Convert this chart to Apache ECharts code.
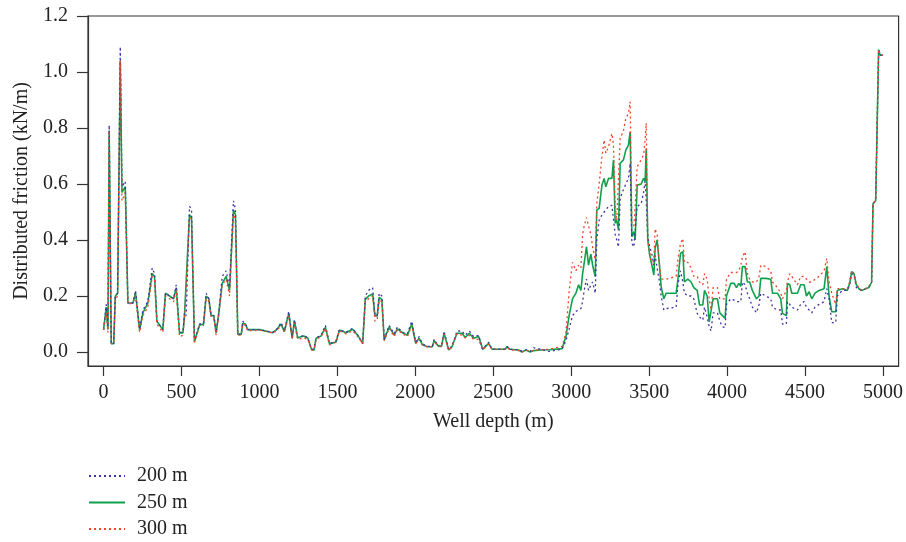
<!DOCTYPE html>
<html>
<head>
<meta charset="utf-8">
<script src="https://cdn.jsdelivr.net/npm/echarts@6/dist/echarts.min.js"></script>
<style>
  html, body { margin: 0; padding: 0; background: #fff; }
  #chart { width: 906px; height: 542px; }
</style>
</head>
<body>
<div id="chart"></div>
<script>
// well depth (m), shared by the three curves
var depth = [
  0,17,28,36,49,65,75,90,107,118,
  139,156,188,205,231,252,284,312,327,342,
  380,397,423,449,466,487,509,519,530,551,
  564,583,615,641,658,675,690,707,722,739,
  761,786,808,833,846,861,883,893,910,925,
  1000,1085,1110,1139,1160,1188,1210,1224,1245,1284,
  1310,1335,1350,1363,1395,1423,1449,1491,1513,1555,
  1598,1630,1662,1679,1700,1726,1741,1755,1768,1785,
  1800,1832,1864,1885,1917,1949,1977,2002,2024,2045,
  2077,2109,2120,2148,2168,2184,2196,2214,2235,2267,
  2299,2320,2346,2374,2406,2432,2470,2491,2577,2588,
  2605,2662,2684,2710,2737,2760,2802,2860,2941,2966,
  2987,3008,3030,3047,3062,3073,3083,3098,3111,3126,
  3137,3154,3164,3179,3197,3211,3222,3239,3261,3271,
  3282,3292,3303,3314,3335,3350,3367,3378,3389,3402,
  3410,3423,3449,3464,3474,3481,3491,3502,3517,3530,
  3538,3551,3566,3577,3594,3609,3673,3684,3701,3716,
  3726,3748,3769,3786,3808,3823,3844,3855,3872,3885,
  3897,3910,3938,3953,3970,3987,3996,4023,4045,4060,
  4075,4088,4098,4115,4130,4145,4162,4188,4205,4216,
  4248,4280,4291,4323,4344,4355,4380,4387,4402,4415,
  4451,4472,4494,4509,4526,4543,4564,4590,4622,4639,
  4654,4671,4697,4707,4739,4771,4786,4799,4814,4829,
  4846,4863,4885,4910,4927,4936,4953,4972,4982,5000
];

// distributed friction (kN/m), 200 m
var f200 = [
  0.08,0.17,0.09,0.81,0.03,0.03,0.20,0.21,1.09,0.59,
  0.61,0.175,0.175,0.22,0.08,0.15,0.18,0.30,0.28,0.11,
  0.08,0.21,0.20,0.19,0.24,0.07,0.07,0.14,0.13,0.52,
  0.51,0.035,0.10,0.10,0.21,0.19,0.13,0.13,0.07,0.14,
  0.27,0.29,0.23,0.54,0.51,0.063,0.065,0.11,0.10,0.08,
  0.08,0.07,0.08,0.105,0.075,0.145,0.05,0.115,0.05,0.06,
  0.05,0.01,0.01,0.05,0.06,0.095,0.03,0.04,0.08,0.07,
  0.085,0.06,0.03,0.20,0.22,0.23,0.13,0.13,0.21,0.20,
  0.045,0.095,0.065,0.09,0.07,0.065,0.11,0.035,0.055,0.03,
  0.02,0.02,0.045,0.022,0.02,0.075,0.07,0.008,0.02,0.075,
  0.075,0.06,0.075,0.055,0.06,0.01,0.035,0.01,0.01,0.02,
  0.01,0.008,0.003,0.008,0.003,0.015,0.01,0.002,0.01,0.04,
  0.083,0.13,0.145,0.15,0.155,0.18,0.22,0.26,0.22,0.24,
  0.25,0.21,0.40,0.47,0.49,0.50,0.50,0.52,0.524,0.524,
  0.42,0.40,0.375,0.55,0.58,0.60,0.62,0.674,0.388,0.375,
  0.38,0.52,0.53,0.57,0.61,0.54,0.41,0.38,0.35,0.31,
  0.345,0.30,0.25,0.20,0.15,0.155,0.16,0.24,0.29,0.25,
  0.21,0.20,0.20,0.19,0.138,0.125,0.114,0.16,0.125,0.09,
  0.075,0.14,0.14,0.11,0.09,0.087,0.17,0.19,0.185,0.18,
  0.18,0.18,0.25,0.24,0.21,0.19,0.16,0.14,0.17,0.21,
  0.20,0.19,0.16,0.15,0.15,0.10,0.10,0.18,0.17,0.16,
  0.15,0.17,0.18,0.16,0.15,0.14,0.16,0.17,0.18,0.226,
  0.19,0.105,0.105,0.20,0.22,0.22,0.24,0.28,0.275,0.23,
  0.225,0.22,0.225,0.235,0.25,0.53,0.54,1.08,1.06,1.06
];

// 250 m
var f250 = [
  0.08,0.16,0.08,0.79,0.03,0.03,0.20,0.21,1.04,0.57,
  0.59,0.175,0.175,0.21,0.08,0.14,0.175,0.28,0.27,0.11,
  0.08,0.21,0.20,0.19,0.23,0.068,0.068,0.13,0.125,0.49,
  0.48,0.037,0.096,0.10,0.20,0.19,0.13,0.13,0.068,0.14,
  0.245,0.27,0.22,0.507,0.49,0.063,0.063,0.103,0.10,0.08,
  0.08,0.069,0.08,0.10,0.073,0.138,0.049,0.112,0.051,0.057,
  0.05,0.007,0.007,0.049,0.057,0.088,0.029,0.036,0.079,0.069,
  0.081,0.06,0.031,0.188,0.20,0.207,0.129,0.129,0.195,0.188,
  0.043,0.09,0.06,0.083,0.069,0.06,0.10,0.031,0.049,0.026,
  0.019,0.019,0.04,0.021,0.02,0.067,0.062,0.007,0.019,0.067,
  0.067,0.052,0.067,0.049,0.055,0.01,0.031,0.01,0.01,0.019,
  0.01,0.007,0.0,0.007,0.0,0.005,0.007,0.008,0.012,0.055,
  0.132,0.19,0.21,0.24,0.22,0.28,0.317,0.376,0.31,0.35,
  0.31,0.269,0.507,0.513,0.596,0.62,0.59,0.62,0.62,0.686,
  0.46,0.47,0.436,0.674,0.686,0.721,0.739,0.787,0.412,0.43,
  0.40,0.596,0.60,0.62,0.61,0.727,0.40,0.35,0.31,0.275,
  0.37,0.40,0.31,0.233,0.19,0.21,0.21,0.257,0.352,0.358,
  0.25,0.26,0.25,0.23,0.22,0.168,0.168,0.22,0.20,0.108,
  0.105,0.19,0.19,0.14,0.13,0.12,0.20,0.245,0.245,0.23,
  0.245,0.235,0.305,0.305,0.25,0.25,0.22,0.19,0.20,0.263,
  0.263,0.26,0.21,0.21,0.19,0.138,0.13,0.245,0.24,0.21,
  0.21,0.24,0.24,0.20,0.215,0.19,0.21,0.22,0.226,0.305,
  0.20,0.144,0.144,0.22,0.226,0.22,0.245,0.287,0.28,0.24,
  0.226,0.22,0.225,0.23,0.25,0.53,0.54,1.08,1.06,1.06
];

// 300 m
var f300 = [
  0.08,0.14,0.07,0.79,0.03,0.03,0.19,0.20,1.04,0.54,
  0.57,0.17,0.175,0.20,0.07,0.13,0.16,0.27,0.26,0.10,
  0.07,0.20,0.19,0.18,0.22,0.055,0.06,0.12,0.12,0.48,
  0.47,0.035,0.09,0.095,0.19,0.18,0.125,0.12,0.06,0.13,
  0.24,0.26,0.20,0.50,0.47,0.06,0.06,0.10,0.095,0.075,
  0.078,0.068,0.075,0.095,0.07,0.13,0.045,0.105,0.045,0.05,
  0.045,0.007,0.007,0.045,0.055,0.085,0.025,0.035,0.075,0.065,
  0.075,0.055,0.03,0.18,0.19,0.20,0.11,0.115,0.185,0.18,
  0.04,0.085,0.055,0.08,0.065,0.055,0.095,0.03,0.045,0.025,
  0.018,0.018,0.038,0.02,0.02,0.065,0.06,0.006,0.018,0.065,
  0.06,0.05,0.06,0.045,0.045,0.008,0.028,0.01,0.01,0.018,
  0.008,0.005,0.0,0.006,0.002,0.006,0.008,0.01,0.02,0.07,
  0.22,0.32,0.29,0.31,0.30,0.42,0.45,0.48,0.45,0.42,
  0.375,0.33,0.53,0.60,0.697,0.757,0.71,0.733,0.78,0.74,
  0.52,0.47,0.47,0.763,0.79,0.835,0.852,0.894,0.46,0.45,
  0.52,0.662,0.686,0.705,0.76,0.817,0.40,0.36,0.31,0.33,
  0.44,0.42,0.31,0.26,0.26,0.26,0.27,0.33,0.388,0.405,
  0.32,0.32,0.30,0.27,0.27,0.25,0.24,0.28,0.26,0.19,
  0.15,0.23,0.23,0.19,0.19,0.19,0.26,0.284,0.284,0.284,
  0.29,0.31,0.34,0.358,0.28,0.26,0.25,0.25,0.27,0.31,
  0.305,0.29,0.25,0.23,0.21,0.19,0.22,0.25,0.28,0.27,
  0.24,0.27,0.27,0.26,0.25,0.25,0.26,0.27,0.29,0.334,
  0.25,0.21,0.17,0.226,0.226,0.225,0.25,0.29,0.28,0.24,
  0.23,0.22,0.225,0.235,0.25,0.53,0.54,1.08,1.06,1.06
];

var xTicks = [0, 500, 1000, 1500, 2000, 2500, 3000, 3500, 4000, 4500, 5000];
var yTicks = [0, 0.2, 0.4, 0.6, 0.8, 1.0, 1.2];
var names = ['200 m', '250 m', '300 m'];

function pairs(vals) {
  return depth.map(function (d, i) { return [d, vals[i]]; });
}

var font = '"Liberation Serif", "DejaVu Serif", serif';
var axisColor = '#333';

var chart = echarts.init(document.getElementById('chart'));

chart.setOption({
  animation: false,
  backgroundColor: '#fff',
  textStyle: { fontFamily: font },
  grid: {
    left: 88, right: 7, top: 16, bottom: 176,
    show: true, borderColor: axisColor, borderWidth: 1.2
  },
  legend: {
    orient: 'vertical',
    left: 88, top: 466, padding: 0,
    itemWidth: 36, itemHeight: 10, itemGap: 6.5,
    data: names,
    itemStyle: { opacity: 0 },
    textStyle: { fontFamily: font, fontSize: 20, color: '#222', padding: [0, 0, 0, 7] }
  },
  xAxis: {
    type: 'value',
    min: -100, max: 5100,
    name: 'Well depth (m)',
    nameLocation: 'middle',
    nameGap: 46,
    nameTextStyle: { fontFamily: font, fontSize: 20, color: '#222' },
    splitLine: { show: false },
    axisLine: { show: true, onZero: false, lineStyle: { color: axisColor, width: 1.2 } },
    axisTick: { show: true, length: 10, customValues: xTicks, lineStyle: { color: axisColor, width: 1.2 } },
    axisLabel: {
      customValues: xTicks, margin: 17, fontFamily: font, fontSize: 20, color: '#222',
      formatter: function (v) { return String(v); }
    }
  },
  yAxis: {
    type: 'value',
    min: -0.05, max: 1.2,
    name: 'Distributed friction (kN/m)',
    nameLocation: 'middle',
    nameGap: 56,
    nameTextStyle: { fontFamily: font, fontSize: 20, color: '#222' },
    splitLine: { show: false },
    axisLine: { show: true, onZero: false, lineStyle: { color: axisColor, width: 1.2 } },
    axisTick: { show: true, length: 11, customValues: yTicks, lineStyle: { color: axisColor, width: 1.2 } },
    axisLabel: {
      customValues: yTicks, margin: 20, fontFamily: font, fontSize: 20, color: '#222',
      formatter: function (v) { return v.toFixed(1); }
    }
  },
  series: [
    {
      name: names[0], type: 'line', data: pairs(f200), symbol: 'none', z: 3,
      itemStyle: { color: '#3b33a8' },
      lineStyle: { color: '#3b33a8', width: 1.3, type: [2, 3] }
    },
    {
      name: names[1], type: 'line', data: pairs(f250), symbol: 'none', z: 2,
      itemStyle: { color: '#10a04c' },
      lineStyle: { color: '#10a04c', width: 1.6 }
    },
    {
      name: names[2], type: 'line', data: pairs(f300), symbol: 'none', z: 4,
      itemStyle: { color: '#f0442a' },
      lineStyle: { color: '#f0442a', width: 1.3, type: [2, 3] }
    }
  ]
});
</script>
</body>
</html>
